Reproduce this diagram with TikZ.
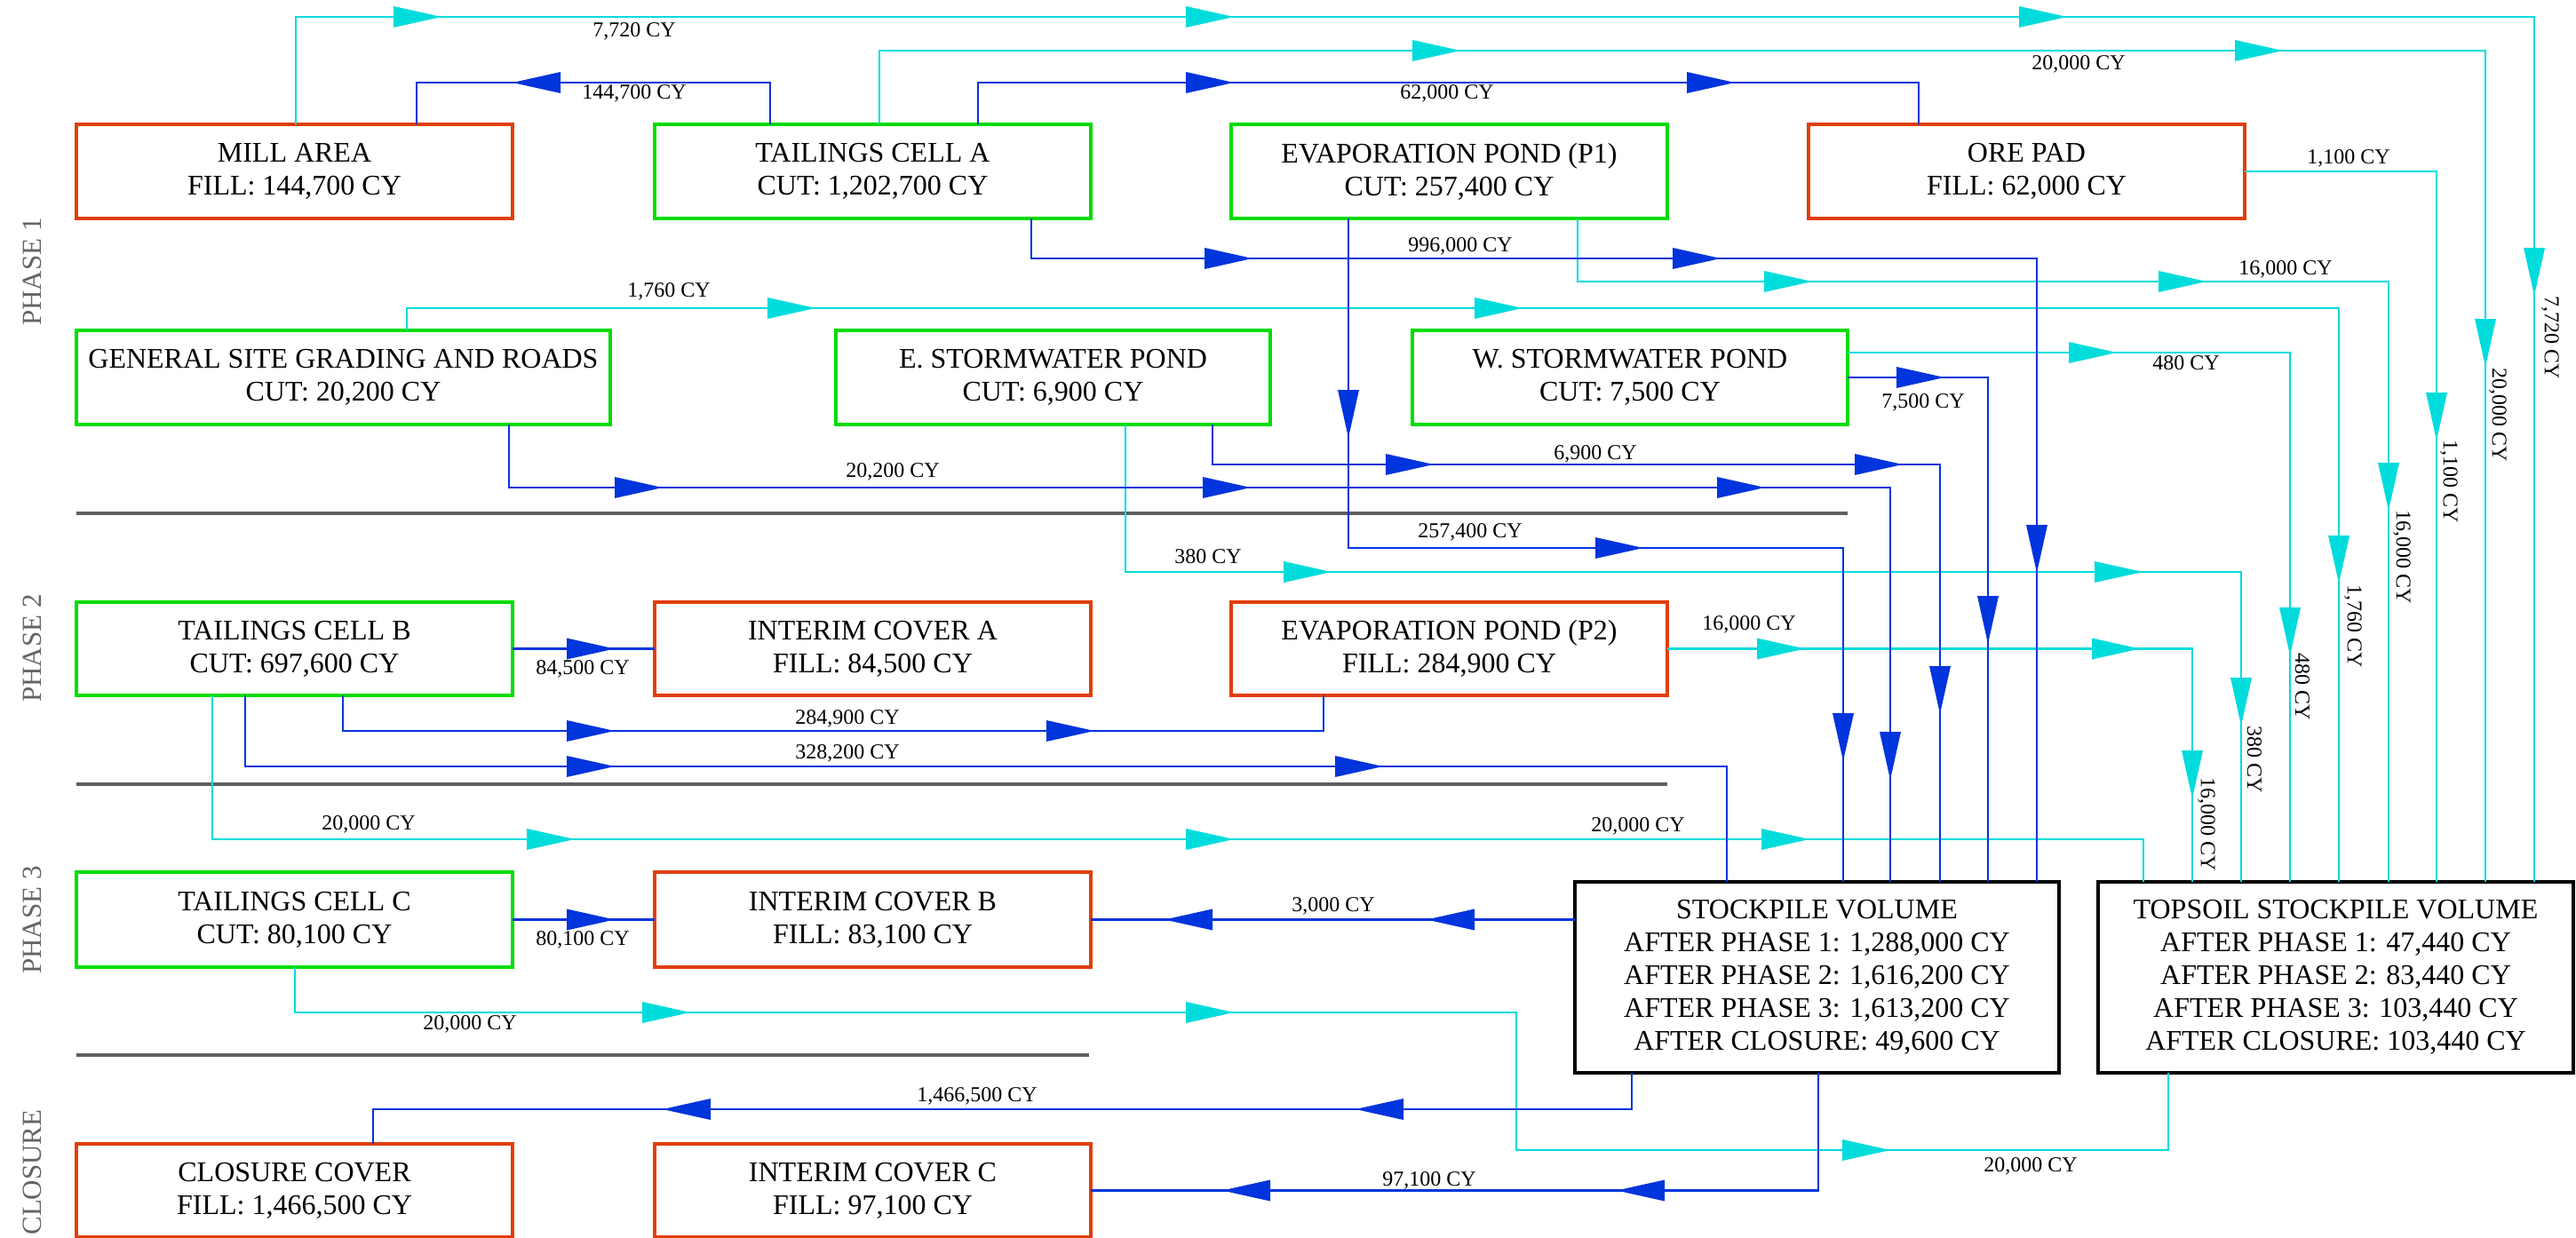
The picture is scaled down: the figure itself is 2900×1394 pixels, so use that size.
\documentclass[tikz,border=0pt]{standalone}
\usepackage{fontspec}
\setmainfont{Liberation Serif}
\definecolor{redc}{RGB}{224,62,12}
\definecolor{greenc}{RGB}{0,220,0}
\definecolor{bluec}{RGB}{0,52,220}
\definecolor{cyanc}{RGB}{0,220,220}
\definecolor{sepc}{RGB}{95,95,95}
\definecolor{phasec}{RGB}{100,100,100}
\newcommand\boxfont{\fontsize{32}{37}\selectfont}
\newcommand\lblfont{\fontsize{24}{28}\selectfont}
\newcommand\phasefont{\fontsize{31}{36}\selectfont}
\newcommand\arwR[3]{\fill[#1] (#2,#3) -- ++(-54,-12) -- ++(0,24) -- cycle;}
\newcommand\arwL[3]{\fill[#1] (#2,#3) -- ++(54,-12) -- ++(0,24) -- cycle;}
\newcommand\arwD[3]{\fill[#1] (#2,#3) -- ++(-12,-54) -- ++(24,0) -- cycle;}
\tikzset{
  box/.style={draw, line width=3.5pt, minimum height=106pt, inner sep=0pt, outer sep=0pt, align=center, font=\boxfont},
  fillbox/.style={box, draw=redc},
  cutbox/.style={box, draw=greenc},
  volbox/.style={box, draw=black, line width=4pt, minimum height=215pt},
  bflow/.style={draw=bluec, line width=2.6pt},
  cflow/.style={draw=cyanc, line width=2.6pt},
  lbl/.style={font=\lblfont, inner sep=0pt},
  vlbl/.style={lbl, rotate=-90},
  phase/.style={font=\phasefont, text=phasec, rotate=90, inner sep=0pt},
  sep/.style={draw=sepc, line width=3.5pt}
}
\begin{document}
\begin{tikzpicture}[x=1pt,y=-1pt]
\fill[white] (0,0) rectangle (2900,1394);
\useasboundingbox (0,0) rectangle (2900,1394);

% phase labels
\node[phase] (ph1) at (36,306) {PHASE 1};
\node[phase] (ph2) at (36,730) {PHASE 2};
\node[phase] (ph3) at (36,1036) {PHASE 3};
\node[phase] (ph4) at (36,1320) {CLOSURE};

% separators
\draw[sep] (86,578) -- (2080,578);
\draw[sep] (86,883) -- (1877,883);
\draw[sep] (86,1188) -- (1226,1188);

% boxes
\node[fillbox, minimum width=491pt] (mill) at (331.5,193) {MILL AREA\\FILL: 144,700 CY};
\node[cutbox, minimum width=491pt] (ta) at (982.5,193) {TAILINGS CELL A\\CUT: 1,202,700 CY};
\node[cutbox, minimum width=491pt] (p1) at (1631.5,193) {EVAPORATION POND (P1)\\CUT: 257,400 CY};
\node[fillbox, minimum width=491pt] (ore) at (2281.5,193) {ORE PAD\\FILL: 62,000 CY};
\node[cutbox, minimum width=601pt] (gsg) at (386.5,425) {GENERAL SITE GRADING AND ROADS\\CUT: 20,200 CY};
\node[cutbox, minimum width=489pt] (es) at (1185.5,425) {E. STORMWATER POND\\CUT: 6,900 CY};
\node[cutbox, minimum width=490pt] (ws) at (1835,425) {W. STORMWATER POND\\CUT: 7,500 CY};
\node[cutbox, minimum width=491pt, minimum height=105pt] (tb) at (331.5,730.5) {TAILINGS CELL B\\CUT: 697,600 CY};
\node[fillbox, minimum width=491pt, minimum height=105pt] (ia) at (982.5,730.5) {INTERIM COVER A\\FILL: 84,500 CY};
\node[fillbox, minimum width=491pt, minimum height=105pt] (p2) at (1631.5,730.5) {EVAPORATION POND (P2)\\FILL: 284,900 CY};
\node[cutbox, minimum width=491pt, minimum height=107pt] (tc) at (331.5,1035.5) {TAILINGS CELL C\\CUT: 80,100 CY};
\node[fillbox, minimum width=491pt, minimum height=107pt] (ib) at (982.5,1035.5) {INTERIM COVER B\\FILL: 83,100 CY};
\node[fillbox, minimum width=491pt, minimum height=105pt] (cc) at (331.5,1340.5) {CLOSURE COVER\\FILL: 1,466,500 CY};
\node[fillbox, minimum width=491pt, minimum height=105pt] (ic) at (982.5,1340.5) {INTERIM COVER C\\FILL: 97,100 CY};
\node[volbox, minimum width=545pt] (sp) at (2045.5,1100.5) {STOCKPILE VOLUME\\AFTER PHASE 1: 1,288,000 CY\\AFTER PHASE 2: 1,616,200 CY\\AFTER PHASE 3: 1,613,200 CY\\AFTER CLOSURE: 49,600 CY};
\node[volbox, minimum width=535pt] (ts) at (2629.5,1100.5) {TOPSOIL STOCKPILE VOLUME\\AFTER PHASE 1: 47,440 CY\\AFTER PHASE 2: 83,440 CY\\AFTER PHASE 3: 103,440 CY\\AFTER CLOSURE: 103,440 CY};

% cyan (topsoil) flows
\draw[cflow] (mill.north -| 333,0) |- (2853,19) -- (2853,0 |- ts.north);
\draw[cflow] (ta.north -| 990,0) |- (2798,57) -- (2798,0 |- ts.north);
\draw[cflow] (ore.east) -| (2743,0 |- ts.north);
\draw[cflow] (p1.south -| 1776,0) |- (2689,317) -- (2689,0 |- ts.north);
\draw[cflow] (gsg.north -| 458,0) |- (2633,347) -- (2633,0 |- ts.north);
\draw[cflow] (ws.east |- 0,397) -| (2578,0 |- ts.north);
\draw[cflow] (es.south -| 1267,0) |- (2523,644) -- (2523,0 |- ts.north);
\draw[cflow] (p2.east) -| (2468,0 |- ts.north);
\draw[cflow] (tb.south -| 239,0) |- (2413,945) -- (2413,0 |- ts.north);
\draw[cflow] (tc.south -| 332,0) |- (1707,1140) |- (2441,1295) -- (2441,0 |- ts.south);

% blue (stockpile) flows
\draw[bflow] (ta.north -| 867,0) |- (469,93) -- (469,0 |- mill.north);
\draw[bflow] (ta.north -| 1101,0) |- (2160,93) -- (2160,0 |- ore.north);
\draw[bflow] (ta.south -| 1161,0) |- (2293,291) -- (2293,0 |- sp.north);
\draw[bflow] (p1.south -| 1518,0) |- (2075,617) -- (2075,0 |- sp.north);
\draw[bflow] (gsg.south -| 573,0) |- (2128,549) -- (2128,0 |- sp.north);
\draw[bflow] (es.south -| 1365,0) |- (2184,523) -- (2184,0 |- sp.north);
\draw[bflow] (ws.east) -- (2238,425) -- (2238,0 |- sp.north);
\draw[bflow] (tb.east) -- (ia.west);
\draw[bflow] (tb.south -| 386,0) |- (1490,823) -- (1490,0 |- p2.south);
\draw[bflow] (tb.south -| 276,0) |- (1944,863) -- (1944,0 |- sp.north);
\draw[bflow] (tc.east) -- (ib.west);
\draw[bflow] (sp.west |- ib.east) -- (ib.east);
\draw[bflow] (sp.south -| 1837,0) |- (420,1249) -- (420,0 |- cc.north);
\draw[bflow] (sp.south -| 2047,0) |- (ic.east);

% cyan arrowheads
\arwR{cyanc}{497}{19}\arwR{cyanc}{1389}{19}\arwR{cyanc}{2327}{19}\arwD{cyanc}{2853}{333}
\arwR{cyanc}{1644}{57}\arwR{cyanc}{2570}{57}\arwD{cyanc}{2798}{413}
\arwD{cyanc}{2743}{496}
\arwR{cyanc}{2040}{317}\arwR{cyanc}{2484}{317}\arwD{cyanc}{2689}{575}
\arwR{cyanc}{918}{347}\arwR{cyanc}{1714}{347}\arwD{cyanc}{2633}{657}
\arwR{cyanc}{2383}{397}\arwD{cyanc}{2578}{738}
\arwR{cyanc}{1499}{644}\arwR{cyanc}{2412}{644}\arwD{cyanc}{2523}{817}
\arwR{cyanc}{2032}{730.5}\arwR{cyanc}{2409}{730.5}\arwD{cyanc}{2468}{899}
\arwR{cyanc}{647}{945}\arwR{cyanc}{1389}{945}\arwR{cyanc}{2037}{945}
\arwR{cyanc}{777}{1140}\arwR{cyanc}{1389}{1140}\arwR{cyanc}{2128}{1295}

% blue arrowheads
\arwL{bluec}{577}{93}
\arwR{bluec}{1389}{93}\arwR{bluec}{1953}{93}
\arwR{bluec}{1410}{291}\arwR{bluec}{1937}{291}\arwD{bluec}{2293}{645}
\arwD{bluec}{1518}{493}\arwR{bluec}{1850}{617}\arwD{bluec}{2075}{857}
\arwR{bluec}{746}{549}\arwR{bluec}{1408}{549}\arwR{bluec}{1987}{549}\arwD{bluec}{2128}{878}
\arwR{bluec}{1614}{523}\arwR{bluec}{2142}{523}\arwD{bluec}{2184}{804}
\arwR{bluec}{2189}{425}\arwD{bluec}{2238}{725}
\arwR{bluec}{692}{730.5}
\arwR{bluec}{692}{823}\arwR{bluec}{1232}{823}
\arwR{bluec}{692}{863}\arwR{bluec}{1557}{863}
\arwR{bluec}{692}{1035.5}
\arwL{bluec}{1311}{1035.5}\arwL{bluec}{1606}{1035.5}
\arwL{bluec}{746}{1249}\arwL{bluec}{1526}{1249}
\arwL{bluec}{1376}{1340.5}\arwL{bluec}{1820}{1340.5}

% horizontal labels
\node[lbl] (l1) at (714,35) {7,720 CY};
\node[lbl] (l2) at (714,105) {144,700 CY};
\node[lbl] (l3) at (1629,105) {62,000 CY};
\node[lbl] (l4) at (2340,72) {20,000 CY};
\node[lbl] (l5) at (2644,178) {1,100 CY};
\node[lbl] (l6) at (1644,277) {996,000 CY};
\node[lbl] (l7) at (2573,303) {16,000 CY};
\node[lbl] (l8) at (753,328) {1,760 CY};
\node[lbl] (l9) at (2461,409) {480 CY};
\node[lbl] (l10) at (2165,453) {7,500 CY};
\node[lbl] (l11) at (1796,511) {6,900 CY};
\node[lbl] (l12) at (1005,531) {20,200 CY};
\node[lbl] (l13) at (1655,599) {257,400 CY};
\node[lbl] (l14) at (1360,627) {380 CY};
\node[lbl] (l15) at (1969,703) {16,000 CY};
\node[lbl] (l16) at (656,753) {84,500 CY};
\node[lbl] (l17) at (954,809) {284,900 CY};
\node[lbl] (l18) at (954,848) {328,200 CY};
\node[lbl] (l19) at (415,928) {20,000 CY};
\node[lbl] (l20) at (1844,930) {20,000 CY};
\node[lbl] (l21) at (1501,1020) {3,000 CY};
\node[lbl] (l22) at (656,1058) {80,100 CY};
\node[lbl] (l23) at (529,1153) {20,000 CY};
\node[lbl] (l24) at (1100,1234) {1,466,500 CY};
\node[lbl] (l25) at (1609,1329) {97,100 CY};
\node[lbl] (l26) at (2286,1313) {20,000 CY};

% vertical labels
\node[vlbl] (v1) at (2871,380) {7,720 CY};
\node[vlbl] (v2) at (2812,467) {20,000 CY};
\node[vlbl] (v3) at (2757,542) {1,100 CY};
\node[vlbl] (v4) at (2704,627) {16,000 CY};
\node[vlbl] (v5) at (2649,705) {1,760 CY};
\node[vlbl] (v6) at (2592,773) {480 CY};
\node[vlbl] (v7) at (2538,855) {380 CY};
\node[vlbl] (v8) at (2484,928) {16,000 CY};
\end{tikzpicture}
\end{document}
